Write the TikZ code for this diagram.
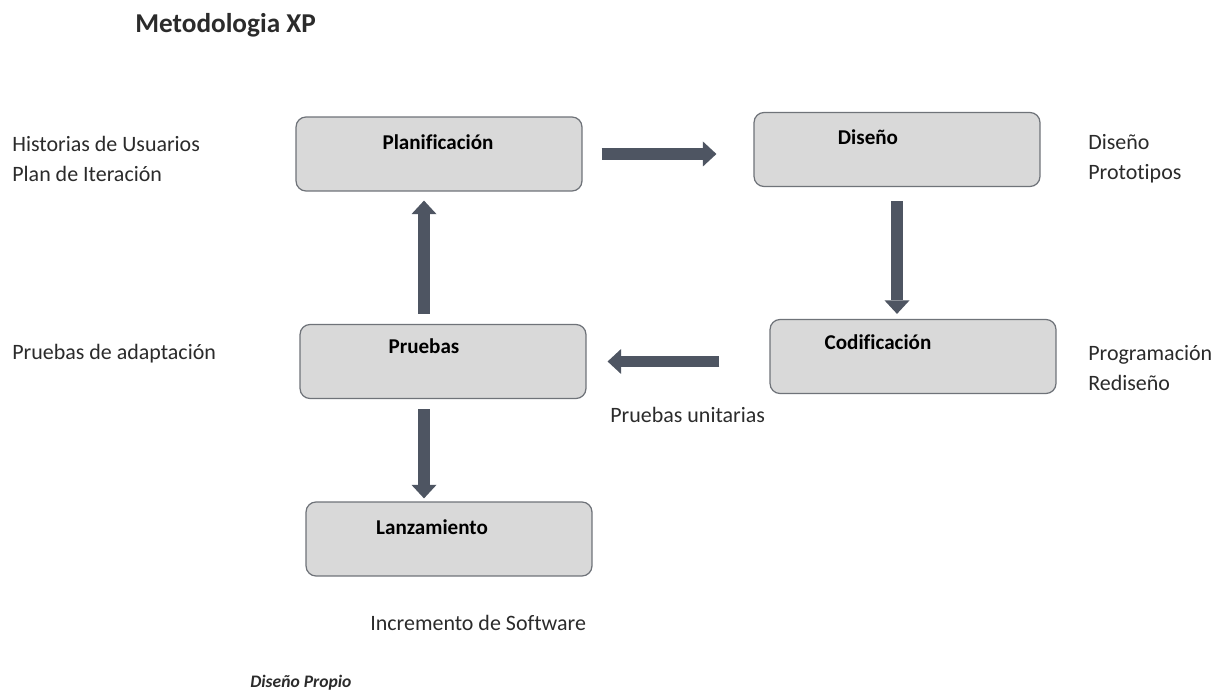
\documentclass[tikz,border=0pt]{standalone}
\usepackage{fontspec}
\setmainfont[Ligatures=NoCommon]{Carlito}
\usepackage{xcolor}
\usepackage{tikz}
\usetikzlibrary{arrows.meta,positioning,calc}

\definecolor{cajagris}{HTML}{D9D9D9}
\definecolor{bordegris}{HTML}{6F7379}
\definecolor{flechagris}{HTML}{4E5562}
\definecolor{textogris}{HTML}{2B2B2B}

\tikzset{
  caja/.style={draw=bordegris, fill=cajagris, line width=0.7pt, rounded corners=0.2cm,
    minimum width=5.72cm, minimum height=1.48cm, inner sep=0pt},
  titcaja/.style={font=\fontsize{12}{14}\selectfont\bfseries, text=black, inner sep=0pt},
  nota/.style={font=\fontsize{12.5}{17}\selectfont, text=textogris, inner sep=0pt, align=left, anchor=west},
  flecha/.style={draw=flechagris, line width=6.6pt,
    -{Triangle[width=0.5cm, length=0.27cm, line width=0pt]}},
}

\begin{document}
\begin{tikzpicture}[x=0.02cm, y=-0.02cm]
  \useasboundingbox (0,0) rectangle (1224,692);
  \fill[white] (0,0) rectangle (1224,692);

  \node[font=\fontsize{15.5}{18}\selectfont\bfseries, text=textogris, anchor=west, inner sep=0pt]
    (titulo) at (135,25) {Metodologia XP};

  % fases
  \node[caja] (plan) at (439,154) {};
  \node[caja] (dis) at (897,149.5) {};
  \node[caja] (cod) at (913,356.5) {};
  \node[caja] (pru) at (443,361.5) {};
  \node[caja] (lanz) at (449,539) {};

  \node[titcaja] (plan-t) at (438,142) {Planificación};
  \node[titcaja] (dis-t) at (868,137) {Diseño};
  \node[titcaja] (cod-t) at (878,342) {Codificación};
  \node[titcaja] (pru-t) at (424,346) {Pruebas};
  \node[titcaja] (lanz-t) at (432,527) {Lanzamiento};

  % notas
  \node[nota] (hist) at (12,159) {Historias de Usuarios\\Plan de Iteración};
  \node[nota] (adap) at (12,354) {Pruebas de adaptación};
  \node[nota] (proto) at (1088,159) {Diseño\\Prototipos};
  \node[nota] (prog) at (1088,368) {Programación\\Rediseño};
  \node[nota] (unit) at (610,415) {Pruebas unitarias};
  \node[nota] (incr) at (370,623) {Incremento de Software};

  \node[font=\fontsize{10}{12}\selectfont\bfseries\itshape, text=textogris, anchor=west, inner sep=0pt]
    (fuente) at (250,683) {Diseño Propio};

  % flechas
  \draw[flecha, shorten <=0.38cm, shorten >=0.74cm] (plan.east) -- (plan.east -| dis.west);
  \draw[flecha, shorten <=0.28cm, shorten >=0.1cm] (dis.south) -- (dis.south |- cod.north);
  \draw[flecha, shorten <=1cm, shorten >=0.42cm] (pru.east -| cod.west) -- (pru.east);
  \draw[flecha, shorten <=0.2cm, shorten >=0.18cm] (pru-t |- pru.north) -- (pru-t |- plan.south);
  \draw[flecha, shorten <=0.2cm, shorten >=0.06cm] (pru-t |- pru.south) -- (pru-t |- lanz.north);
\end{tikzpicture}
\end{document}
